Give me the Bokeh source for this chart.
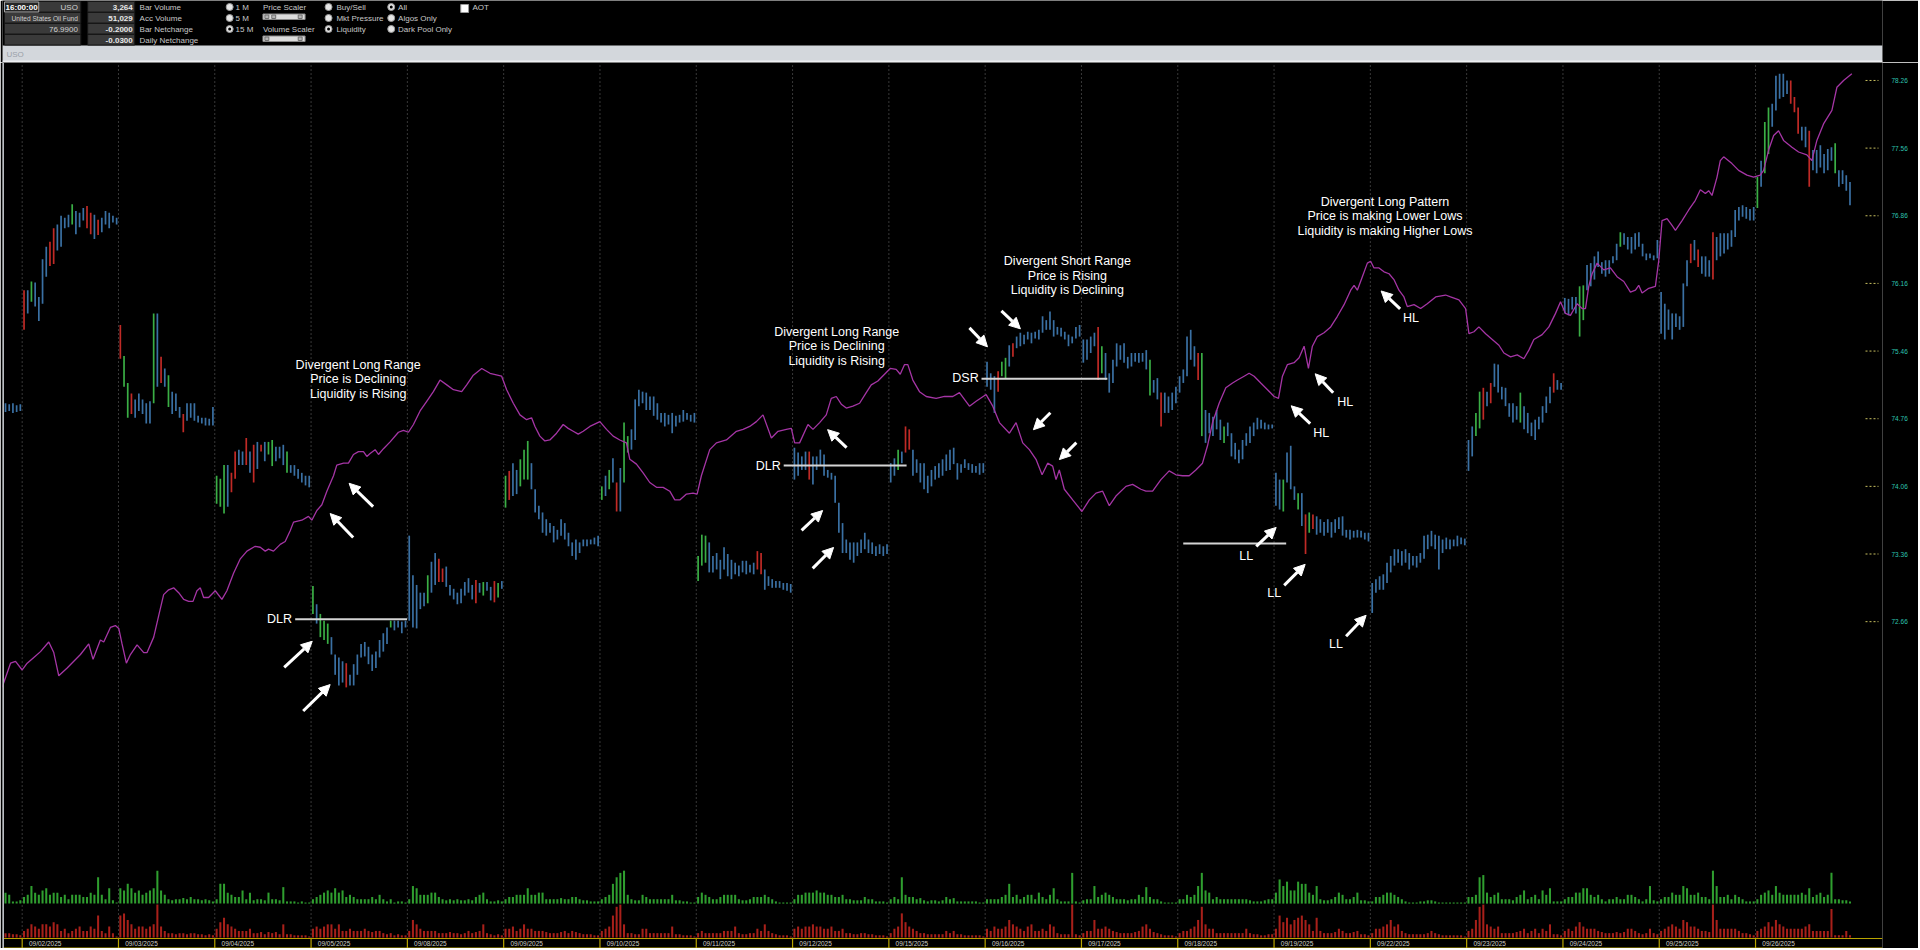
from bokeh.plotting import figure
from bokeh.models import (Range1d, LinearAxis, FixedTicker, PrintfTickFormatter,
                          ColumnDataSource, Arrow, NormalHead, Span)
from bokeh.layouts import column
from bokeh.core.properties import value
from bokeh.embed import file_html
from bokeh.resources import INLINE

FONT = value("Liberation Sans")

# ---------------- data ----------------
days = ["09/02/2025", "09/03/2025", "09/04/2025", "09/05/2025", "09/08/2025",
        "09/09/2025", "09/10/2025", "09/11/2025", "09/12/2025", "09/15/2025",
        "09/16/2025", "09/17/2025", "09/18/2025", "09/19/2025", "09/22/2025",
        "09/23/2025", "09/24/2025", "09/25/2025", "09/26/2025"]
BARS_PER_DAY = 26

# last bars of the previous session (08/29)
pre_high = [74.92, 74.91, 74.92, 74.90, 74.91]
pre_low = [74.83, 74.84, 74.82, 74.83, 74.84]
pre_color = "bbbbb"
pre_buy = [10, 8, 2, 2, 3]
pre_sell = [4, 4, 3, 3, 2]

bar_high = [
    [76.09,76.09,76.18,76.17,76.02,76.41,76.54,76.59,76.73,76.77,76.86,76.84,76.87,76.98,76.91,76.89,76.94,76.96,76.89,76.87,76.82,76.84,76.91,76.89,76.86,76.84],
    [75.73,75.41,75.13,75.02,74.96,75.02,74.96,74.92,74.94,75.85,75.85,75.40,75.28,75.21,75.04,75.02,74.88,74.81,74.92,74.92,74.92,74.79,74.77,74.77,74.76,74.88],
    [74.17,74.14,74.28,74.28,74.20,74.42,74.44,74.42,74.56,74.42,74.49,74.52,74.49,74.52,74.52,74.54,74.47,74.47,74.49,74.42,74.28,74.28,74.24,74.20,74.17,74.17],
    [73.03,72.84,72.74,72.67,72.64,72.50,72.32,72.29,72.25,72.23,72.11,72.22,72.32,72.43,72.45,72.40,72.32,72.35,72.47,72.54,72.60,72.67,72.67,72.67,72.66,72.67],
    [73.55,73.14,73.04,72.96,72.96,73.14,73.28,73.37,73.31,73.21,73.23,73.04,73.00,72.96,73.00,73.07,73.11,73.04,73.09,73.06,73.07,73.07,73.02,73.08,73.06,73.08],
    [74.17,74.22,74.30,74.23,74.34,74.44,74.53,74.30,74.03,73.86,73.79,73.72,73.68,73.65,73.61,73.72,73.68,73.58,73.48,73.51,73.48,73.51,73.51,73.51,73.53,73.55],
    [74.06,74.17,74.23,74.35,74.10,74.25,74.72,74.58,74.65,74.96,75.06,75.04,75.03,74.99,74.99,74.92,74.82,74.82,74.80,74.82,74.79,74.80,74.85,74.82,74.80,74.82],
    [73.34,73.56,73.55,73.48,73.34,73.37,73.30,73.43,73.36,73.30,73.27,73.24,73.29,73.29,73.25,73.27,73.39,73.37,73.20,73.13,73.10,73.08,73.08,73.06,73.06,73.05],
    [74.46,74.41,74.37,74.42,74.42,74.37,74.37,74.44,74.39,74.23,74.20,74.17,73.89,73.68,73.51,73.48,73.48,73.48,73.51,73.58,73.51,73.48,73.44,73.46,73.44,73.46],
    [74.30,74.35,74.44,74.42,74.68,74.65,74.44,74.34,74.30,74.30,74.17,74.23,74.27,74.30,74.34,74.39,74.44,74.46,74.30,74.29,74.34,74.30,74.29,74.27,74.30,74.30],
    [75.35,75.23,75.20,75.25,75.35,75.39,75.52,75.54,75.61,75.65,75.63,75.66,75.65,75.66,75.68,75.82,75.78,75.87,75.78,75.71,75.70,75.66,75.63,75.61,75.71,75.73],
    [75.58,75.58,75.61,75.65,75.71,75.51,75.44,75.23,75.37,75.54,75.52,75.54,75.40,75.44,75.44,75.44,75.44,75.47,75.37,75.16,75.18,75.03,75.03,74.99,75.03,75.09],
    [75.20,75.27,75.61,75.68,75.51,75.44,75.44,74.85,74.82,74.78,74.85,74.75,74.68,74.72,74.61,74.51,74.44,74.54,74.61,74.68,74.72,74.77,74.75,74.72,74.70,74.70],
    [74.20,74.13,74.13,74.41,74.48,74.06,73.99,73.99,73.77,73.79,73.77,73.75,73.72,73.69,73.72,73.69,73.72,73.74,73.75,73.61,73.61,73.60,73.61,73.60,73.58,73.58],
    [73.06,73.10,73.13,73.15,73.27,73.34,73.41,73.41,73.39,73.41,73.37,73.34,73.34,73.37,73.55,73.56,73.60,73.56,73.55,73.51,73.53,73.51,73.51,73.55,73.53,73.52],
    [74.54,74.68,74.82,75.04,75.08,75.04,75.13,75.33,75.32,75.09,75.08,74.92,74.92,74.89,75.03,74.89,74.82,74.72,74.75,74.78,74.89,74.99,75.09,75.23,75.16,75.13],
    [76.01,76.00,76.02,76.02,76.13,76.14,76.35,76.37,76.44,76.49,76.38,76.40,76.40,76.44,76.57,76.69,76.68,76.64,76.64,76.68,76.69,76.57,76.47,76.47,76.45,76.61],
    [76.07,75.95,75.89,75.85,75.85,75.82,76.16,76.40,76.57,76.61,76.51,76.44,76.44,76.40,76.69,76.64,76.68,76.68,76.68,76.71,76.92,76.95,76.97,76.95,76.93,76.95],
    [77.26,77.43,77.83,77.98,78.02,78.31,78.33,78.33,78.26,78.26,78.09,77.98,77.78,77.78,77.74,77.54,77.54,77.59,77.50,77.55,77.57,77.61,77.33,77.33,77.28,77.21],
]
bar_low = [
    [75.68,75.85,75.97,75.92,75.77,75.95,76.23,76.34,76.36,76.50,76.54,76.73,76.74,76.77,76.67,76.74,76.81,76.73,76.67,76.62,76.66,76.69,76.77,76.73,76.79,76.77],
    [75.38,75.09,74.77,74.81,74.77,74.84,74.81,74.71,74.71,74.92,75.09,75.13,75.09,74.88,74.81,74.84,74.77,74.62,74.74,74.77,74.74,74.72,74.71,74.69,74.69,74.69],
    [73.88,73.85,73.78,73.85,74.00,74.14,74.28,74.28,74.28,74.20,74.10,74.24,74.42,74.32,74.39,74.27,74.32,74.35,74.28,74.20,74.20,74.17,74.14,74.10,74.07,74.05],
    [72.74,72.64,72.50,72.47,72.43,72.32,72.11,72.00,72.03,71.98,72.00,72.00,72.11,72.29,72.30,72.22,72.15,72.18,72.29,72.35,72.43,72.60,72.57,72.60,72.54,72.60],
    [72.67,72.60,72.59,72.79,72.82,72.85,72.96,73.04,73.07,73.07,73.02,72.93,72.89,72.84,72.85,72.93,72.96,72.89,72.85,72.96,72.93,72.98,72.88,72.86,72.91,73.00],
    [73.84,73.92,73.96,73.98,74.06,74.13,74.13,74.03,73.79,73.72,73.58,73.55,73.58,73.48,73.51,73.55,73.51,73.44,73.34,73.30,73.37,73.44,73.44,73.46,73.46,73.44],
    [73.92,73.96,74.03,74.10,73.80,73.80,74.10,74.41,74.44,74.54,74.89,74.92,74.85,74.85,74.79,74.75,74.72,74.68,74.70,74.61,74.68,74.72,74.73,74.75,74.73,74.72],
    [73.08,73.24,73.27,73.17,73.17,73.20,73.10,73.20,73.13,73.10,73.15,73.13,73.17,73.15,73.17,73.15,73.20,73.15,72.99,73.03,73.01,73.01,73.01,72.99,72.98,72.96],
    [74.13,74.17,74.23,74.23,74.13,74.08,74.23,74.27,74.17,74.15,74.13,73.89,73.58,73.37,73.37,73.30,73.27,73.34,73.37,73.41,73.37,73.36,73.34,73.36,73.34,73.36],
    [74.10,74.17,74.23,74.30,74.41,74.44,74.17,74.20,74.10,74.03,73.99,74.06,74.13,74.15,74.17,74.22,74.23,74.29,74.13,74.20,74.25,74.23,74.20,74.20,74.18,74.20],
    [75.09,75.06,74.82,75.04,75.20,75.18,75.30,75.40,75.49,75.51,75.53,75.58,75.54,75.59,75.58,75.65,75.68,75.68,75.61,75.63,75.61,75.58,75.51,75.54,75.59,75.61],
    [75.34,75.37,75.44,75.51,75.16,75.23,75.16,75.03,75.13,75.30,75.37,75.34,75.28,75.30,75.35,75.34,75.35,75.27,75.00,75.03,74.96,74.68,74.82,74.82,74.85,74.92],
    [75.03,75.13,75.20,75.37,75.30,75.16,74.58,74.51,74.61,74.58,74.65,74.54,74.51,74.58,74.37,74.34,74.30,74.34,74.48,74.51,74.58,74.65,74.66,74.65,74.65,74.66],
    [73.86,73.82,73.80,74.10,74.03,73.92,73.82,73.65,73.36,73.58,73.62,73.56,73.58,73.55,73.58,73.53,73.58,73.62,73.55,73.53,73.51,73.53,73.53,73.53,73.51,73.49],
    [72.75,72.96,72.99,72.99,73.06,73.17,73.24,73.27,73.24,73.27,73.20,73.24,73.22,73.27,73.31,73.41,73.44,73.41,73.20,73.37,73.41,73.41,73.44,73.44,73.46,73.45],
    [74.22,74.37,74.58,74.66,74.75,74.89,74.92,75.09,75.03,74.96,74.89,74.78,74.72,74.75,74.72,74.65,74.61,74.58,74.54,74.65,74.72,74.82,74.92,75.03,75.06,75.06],
    [75.85,75.83,75.89,75.85,75.61,75.78,76.09,76.13,76.20,76.33,76.26,76.23,76.26,76.37,76.40,76.54,76.56,76.51,76.47,76.51,76.54,76.44,76.40,76.42,76.40,76.42],
    [75.64,75.58,75.68,75.58,75.71,75.68,75.71,76.13,76.37,76.40,76.33,76.26,76.23,76.23,76.20,76.40,76.44,76.47,76.51,76.54,76.64,76.81,76.85,76.83,76.81,76.81],
    [76.94,77.16,77.30,77.50,77.78,77.95,78.07,78.09,78.12,78.02,77.93,77.71,77.64,77.57,77.16,77.33,77.30,77.36,77.30,77.33,77.43,77.30,77.16,77.19,77.12,76.97],
]
# b = neutral (blue), g = buy liquidity (green), r = sell liquidity (red)
bar_color = [
    "rbgbbbbrrbbbbgbbbrrbrbbbbb", "rggrbbbbbgbrbgbbbrbbbbbbbb", "gggbrrbbrbrbrbggbbbgbbbbbb",
    "gbgggbbbbrbbbbbbbbbbbgbbbb", "bbbbbgbbrrbbbbbbbbrbgbbrgb", "grbbgggbbbbbbbbbbbbbbbbbbb",
    "gbgbrbggbbbbbbbbbbbbbbbbbb", "gggbbbbbbbbbbbbbrrbbbbbbbb", "bbbbrbbbbbbbbbbbbbbbbbbbbb",
    "bbgbrrbbbbbbbbbbbbbbbbbbbb", "bbbrggbrbbbbbbbbbbbbbbbbbb", "bbbbrgbbbbbbbbbbbbgbbrbbbb",
    "bbbbbrgbbbbbgbbbbbbbbbbbbb", "bbgbbbgbrgrbbbbbbbbbbbbbbb", "bbbbbbbbbbbbbbbbbbbbbbbbbb",
    "bbggrbrbbbbbbbgbbbbbbbbrbb", "bbbbggbbbbbbbbbgbbbbbbbbbb", "bbbbbbbbrbrbbbrbbbbbbbbbbb",
    "gbggbbbbbrrrbbrbbbbbbgbbbb",
]
# volume per bar (thousand shares)
buy_vol = [
    [6,8,16,10,8,12,14,8,10,10,6,8,4,8,8,8,6,6,10,8,24,8,4,14,3,1],
    [14,12,18,14,10,12,8,10,12,14,30,12,8,4,3,4,4,5,4,6,4,4,3,4,3,2],
    [4,18,18,10,8,6,6,12,4,10,3,4,4,3,10,4,4,3,15,2,2,2,1,2,1,1],
    [4,6,8,10,12,10,14,10,12,6,8,6,4,4,4,4,6,4,8,4,2,4,1,2,2,1],
    [4,16,14,8,8,8,10,10,6,4,3,4,3,4,3,3,4,3,6,8,10,4,2,2,3,2],
    [4,6,6,8,8,8,14,8,8,10,10,4,4,4,4,5,4,4,6,6,4,3,3,2,2,2],
    [4,6,8,18,24,28,30,8,4,3,3,8,6,4,4,4,4,4,4,8,3,3,2,2,1,1],
    [6,10,8,6,4,4,6,8,8,8,8,4,3,3,4,6,6,6,8,6,4,2,1,1,1,1],
    [4,8,8,10,10,10,12,10,10,8,8,6,6,8,4,4,3,3,3,6,4,4,2,2,2,1],
    [4,6,4,24,8,6,6,4,5,3,2,3,3,2,3,6,4,5,2,2,2,2,2,2,1,1],
    [4,4,4,4,6,8,18,6,8,4,6,8,8,4,10,6,4,8,14,4,2,2,2,28,2,1],
    [3,4,4,16,6,8,10,8,6,4,4,4,3,4,4,8,6,15,6,4,4,2,1,1,1,1],
    [4,4,8,6,8,16,28,12,10,4,6,4,4,4,4,4,4,4,4,3,2,2,2,3,4,4],
    [10,22,16,20,12,12,20,18,18,10,8,16,4,3,3,4,6,10,8,4,4,6,10,3,3,2],
    [2,6,6,8,10,10,8,6,4,2,1,1,1,2,2,3,3,2,1,1,1,1,1,1,1,1],
    [6,6,8,24,26,10,6,8,10,4,4,4,3,6,8,12,4,6,8,4,12,8,14,2,2,2],
    [4,6,6,10,10,14,14,8,6,8,4,2,4,4,6,4,4,8,8,6,4,2,4,16,3,2],
    [4,6,6,10,8,8,16,14,8,8,10,6,6,4,30,16,6,6,8,4,8,6,4,2,2,2],
    [4,8,10,12,8,16,10,8,8,8,8,8,10,8,14,6,8,10,6,8,28,4,4,3,3,2],
]
sell_vol = [
    [6,8,12,10,8,12,12,10,14,12,6,8,4,6,8,10,6,6,10,8,20,6,4,10,4,1],
    [20,22,16,12,8,10,10,8,10,12,30,10,6,4,4,3,4,4,3,4,4,3,3,2,3,2],
    [8,14,18,12,10,8,6,6,6,8,4,4,5,3,5,4,5,3,12,3,3,2,2,2,2,1],
    [8,10,8,10,12,12,8,12,6,6,8,6,6,6,8,6,5,6,6,4,3,4,2,3,2,2],
    [6,16,12,8,6,6,6,6,4,4,4,5,4,4,3,4,6,4,5,6,12,4,3,2,3,2],
    [8,8,10,6,8,12,8,8,6,6,6,5,4,4,4,5,6,4,6,5,4,3,3,3,2,2],
    [6,8,10,20,28,30,12,4,4,3,3,8,8,4,4,4,4,4,4,10,3,3,2,2,2,1],
    [4,6,4,4,4,4,4,6,6,6,10,4,3,3,4,4,8,6,12,6,4,3,2,2,2,1],
    [8,10,8,10,10,12,10,10,8,8,10,6,6,8,4,4,3,3,4,4,3,3,2,2,2,1],
    [4,8,10,22,14,10,8,6,4,4,3,3,3,3,3,6,4,6,3,3,2,2,2,2,2,1],
    [8,6,10,8,8,10,16,12,10,8,6,10,12,6,6,8,6,12,10,4,3,3,3,30,3,2],
    [4,6,6,16,8,8,10,8,6,5,4,4,4,4,5,6,10,12,8,5,4,3,2,2,2,1],
    [4,6,6,8,10,16,28,12,8,8,4,4,4,4,4,4,4,4,8,4,3,3,2,2,3,3],
    [8,20,14,18,12,16,18,20,16,12,6,18,6,4,4,4,5,8,6,4,4,5,6,3,3,2],
    [4,8,8,10,12,16,10,12,6,4,3,3,3,3,3,4,6,4,3,2,2,2,2,2,2,1],
    [6,8,16,28,30,12,10,8,10,4,4,4,4,5,6,8,4,6,8,4,8,6,12,3,3,2],
    [6,8,6,10,14,10,8,8,8,6,5,4,4,4,5,4,5,8,8,6,4,3,4,8,4,3],
    [6,8,10,12,10,8,16,14,10,10,8,6,6,5,30,16,8,8,8,8,8,6,4,4,3,2],
    [6,8,10,14,10,16,12,10,8,8,8,8,8,10,12,6,6,6,6,6,26,2,2,2,6,2],
]

# liquidity line (time in sessions since 09/02 open, value scaled to the price axis)
liq_t = [-0.208,-0.121,-0.069,0.000,0.052,0.121,0.190,0.276,0.328,0.380,0.467,0.605,0.691,0.736,0.812,0.847,0.916,0.968,
         1.003,1.037,1.082,1.124,1.193,1.262,1.297,1.366,1.417,1.469,1.521,1.573,1.625,1.677,1.729,1.774,1.815,1.850,1.884,1.936,
         2.005,2.074,2.126,2.195,2.265,2.334,2.420,2.472,2.524,2.558,2.610,2.680,2.731,2.783,2.818,2.904,2.973,
         3.008,3.060,3.112,3.164,3.233,3.267,3.337,3.388,3.440,3.492,3.544,3.579,3.613,3.665,3.700,3.752,3.821,3.907,3.959,
         4.011,4.063,4.132,4.201,4.270,4.339,4.409,4.478,4.564,4.616,4.685,4.772,4.858,4.979,
         5.031,5.100,5.169,5.238,5.290,5.325,5.376,5.428,5.480,5.549,5.618,5.670,5.722,5.774,5.826,5.895,5.999,
         6.068,6.137,6.206,6.275,6.310,6.379,6.448,6.517,6.587,6.656,6.725,6.777,6.829,6.898,6.967,
         7.009,7.053,7.140,7.209,7.313,7.417,7.486,7.555,7.624,7.693,7.780,7.849,7.935,7.987,
         8.022,8.073,8.160,8.212,8.281,8.350,8.402,8.454,8.506,8.558,8.627,8.696,8.765,8.817,8.886,8.955,
         9.014,9.076,9.118,9.163,9.197,9.249,9.318,9.388,9.491,9.578,9.664,9.733,9.837,9.906,
         10.010,10.079,10.148,10.252,10.321,10.390,10.459,10.528,10.591,10.649,10.701,10.736,10.770,10.822,10.909,
         11.005,11.082,11.151,11.220,11.289,11.358,11.462,11.531,11.617,11.669,11.739,11.825,11.911,11.981,
         12.050,12.119,12.188,12.257,12.309,12.361,12.430,12.499,12.569,12.620,12.689,12.741,12.793,12.862,12.932,
         13.001,13.046,13.087,13.139,13.208,13.260,13.312,13.357,13.398,13.450,13.519,13.588,13.658,13.727,13.796,13.831,13.865,13.917,13.969,
         14.003,14.038,14.090,14.142,14.194,14.245,14.297,14.349,14.384,14.453,14.522,14.591,14.678,14.781,14.833,14.920,14.989,
         15.024,15.076,15.127,15.197,15.266,15.335,15.387,15.456,15.525,15.594,15.646,15.698,15.784,15.854,15.923,15.975,
         16.026,16.078,16.147,16.199,16.234,16.268,16.303,16.355,16.424,16.493,16.562,16.632,16.701,16.753,16.787,16.822,16.891,16.960,16.995,
         17.029,17.081,17.133,17.168,17.237,17.306,17.375,17.427,17.479,17.513,17.548,17.600,17.634,17.669,17.755,17.824,17.911,17.980,
         18.049,18.084,18.136,18.188,18.239,18.291,18.378,18.447,18.533,18.585,18.637,18.706,18.793,18.845,18.914,19.000]
liq_v = [71.98,72.23,72.25,72.16,72.23,72.29,72.35,72.45,72.34,72.10,72.18,72.32,72.43,72.27,72.47,72.45,72.60,72.62,
         72.59,72.43,72.23,72.32,72.42,72.34,72.34,72.50,72.72,72.94,72.99,73.01,72.96,72.89,72.87,72.87,72.98,73.01,72.91,72.91,
         72.98,72.89,72.98,73.16,73.31,73.39,73.44,73.43,73.39,73.41,73.39,73.46,73.49,73.60,73.69,73.71,73.75,
         73.71,73.81,73.87,74.01,74.17,74.28,74.30,74.30,74.39,74.42,74.42,74.37,74.40,74.44,74.39,74.45,74.52,74.62,74.64,
         74.62,74.70,74.84,74.94,75.04,75.16,75.11,75.06,75.04,75.11,75.21,75.28,75.23,75.20,
         75.06,74.92,74.80,74.75,74.77,74.68,74.58,74.53,74.54,74.61,74.70,74.66,74.63,74.60,74.63,74.68,74.73,
         74.65,74.58,74.54,74.51,74.34,74.29,74.20,74.10,74.05,74.05,74.01,73.92,73.92,73.98,73.99,
         73.98,74.17,74.44,74.51,74.54,74.63,74.65,74.68,74.73,74.80,74.56,74.63,74.65,74.66,
         74.51,74.51,74.70,74.65,74.72,74.80,74.97,74.99,74.91,74.87,74.89,74.92,75.03,75.11,75.15,75.22,
         75.28,75.27,75.22,75.32,75.32,75.16,75.04,74.99,74.97,74.99,74.99,75.03,74.89,74.94,
         75.01,74.89,74.72,74.61,74.72,74.51,74.44,74.34,74.18,74.30,74.27,74.13,74.23,74.03,73.92,
         73.80,73.92,73.99,74.01,73.86,73.96,74.06,74.08,74.03,74.01,74.01,74.13,74.22,74.18,
         74.17,74.17,74.23,74.30,74.48,74.72,74.92,75.08,75.13,75.16,75.20,75.23,75.20,75.13,75.06,
         74.99,74.97,75.20,75.32,75.34,75.39,75.51,75.28,75.51,75.61,75.65,75.71,75.82,75.94,76.09,76.14,76.09,76.23,76.37,
         76.39,76.32,76.32,76.28,76.26,76.20,76.09,76.02,75.92,75.94,75.90,75.95,76.02,76.04,76.02,75.99,75.90,
         75.64,75.66,75.71,75.64,75.58,75.52,75.44,75.40,75.42,75.38,75.47,75.58,75.63,75.71,75.85,75.97,
         75.85,75.83,75.95,75.90,75.90,76.13,76.26,76.37,76.30,76.32,76.23,76.18,76.07,76.09,76.14,76.06,76.11,76.13,76.40,
         76.81,76.83,76.76,76.71,76.81,76.92,77.02,77.13,77.09,77.12,77.07,77.26,77.43,77.47,77.40,77.33,77.28,77.26,
         77.28,77.33,77.54,77.69,77.74,77.64,77.57,77.52,77.49,77.43,77.64,77.81,77.95,78.19,78.26,78.33]

price_ticks = [72.66, 73.36, 74.06, 74.76, 75.46, 76.16, 76.86, 77.56, 78.26]

# ---------------- styling ----------------
BAR_COLORS = {"b": "#3a70a3", "g": "#3aae45", "r": "#c02a26"}
VOL_GREEN = "#2f9e2f"
VOL_RED = "#a8201a"
LIQ_COLOR = "#a535a5"
W = 1918
VOL_PX = 1.1           # screen pixels per volume unit


def vpx(px):
    """convert a vertical offset in pixels (from the red volume baseline) to volume units"""
    return px / VOL_PX


# ---------------- assemble bars ----------------
xs, lows, highs, cols, buys, sells = [], [], [], [], [], []
npre = len(pre_high)
for j in range(npre):
    xs.append(-(npre - j - 0.5) / BARS_PER_DAY)
    lows.append(pre_low[j]); highs.append(pre_high[j])
    cols.append(BAR_COLORS[pre_color[j]])
    buys.append(pre_buy[j]); sells.append(pre_sell[j])
for k in range(len(days)):
    for j in range(BARS_PER_DAY):
        xs.append(k + (j + 0.5) / BARS_PER_DAY)
        lows.append(bar_low[k][j]); highs.append(bar_high[k][j])
        cols.append(BAR_COLORS[bar_color[k][j]])
        buys.append(buy_vol[k][j]); sells.append(sell_vol[k][j])

BUY_BASE = vpx(34)  # green volume histogram sits above the red one
src = ColumnDataSource(dict(x=xs, lo=lows, hi=highs, c=cols,
                            bt=[BUY_BASE + v for v in buys], st=sells))

X0, X1 = -0.2044, 19.3184
p = figure(width=W, height=886, x_range=Range1d(X0, X1), y_range=Range1d(69.278, 78.446),
           toolbar_location=None, output_backend="svg",
           x_axis_location=None, y_axis_location=None,
           min_border_left=2, min_border_right=36, min_border_top=0, min_border_bottom=0,
           background_fill_color="black", border_fill_color="black", outline_line_color=None)
p.extra_y_ranges = {"vol": Range1d(vpx(-11), vpx(877))}
p.xgrid.visible = False
p.ygrid.visible = False

day_x = list(range(len(days)))
nd = len(days)
# session separators
p.segment(x0=day_x, x1=day_x, y0=[vpx(-1)] * nd, y1=[vpx(877)] * nd, y_range_name="vol",
          line_color="#707070", line_dash="1 3", line_width=1)
p.add_layout(Span(location=X0, dimension="height", line_color="#b9bdc2", line_width=3))

# volume
p.vbar(x="x", bottom=BUY_BASE, top="bt", width=0.55 / BARS_PER_DAY, source=src,
       y_range_name="vol", fill_color=VOL_GREEN, line_color=None)
p.vbar(x="x", bottom=0, top="st", width=0.55 / BARS_PER_DAY, source=src,
       y_range_name="vol", fill_color=VOL_RED, line_color=None)

# date band
YEL = "#b8a400"
p.segment(x0=[X0, X0], x1=[X1, X1], y0=[vpx(-1), vpx(-10.5)], y1=[vpx(-1), vpx(-10.5)],
          y_range_name="vol", line_color=YEL, line_width=1.2)
p.segment(x0=day_x, x1=day_x, y0=[vpx(-1)] * nd, y1=[vpx(-11)] * nd, y_range_name="vol",
          line_color=YEL, line_width=1.2)
p.text(x=[d + 0.07 for d in day_x], y=[vpx(-5.8)] * nd, text=days, y_range_name="vol",
       text_font=FONT, text_font_size="6.5px", text_color="#cfcfc4", text_baseline="middle")

# price bars
p.segment(x0="x", x1="x", y0="lo", y1="hi", line_color="c", line_width=1.7, source=src)

# liquidity line
p.line(liq_t, liq_v, line_color=LIQ_COLOR, line_width=1.3)

# right price axis with dashed tick markers
p.segment(x0=[19.142] * len(price_ticks), x1=[19.277] * len(price_ticks), y0=price_ticks, y1=price_ticks,
          line_color="#c8c060", line_dash="2 2", line_width=1)
ax = LinearAxis(ticker=FixedTicker(ticks=price_ticks), formatter=PrintfTickFormatter(format="%.2f"),
                axis_line_color=None, major_tick_line_color=None, minor_tick_line_color=None,
                major_label_text_color="#2ec4b0", major_label_text_font_size="6.5px",
                major_label_text_font="Liberation Sans", major_label_standoff=3)
p.add_layout(ax, "right")

# ---------------- annotations ----------------
note_blocks = [
    (3.489, [75.319, 75.166, 75.016], ["Divergent Long Range", "Price is Declining", "Liquidity is Rising"]),
    (8.458, [75.658, 75.514, 75.359], ["Divergent Long Range", "Price is Declining", "Liquidity is Rising"]),
    (10.854, [76.391, 76.236, 76.092], ["Divergent Short Range", "Price is Rising", "Liquidity is Declining"]),
    (14.152, [77.000, 76.856, 76.701], ["Divergent Long Pattern", "Price is making Lower Lows",
                                        "Liquidity is making Higher Lows"]),
]
nx, ny, nt = [], [], []
for cx, ys, ts in note_blocks:
    for yy, tt in zip(ys, ts):
        nx.append(cx); ny.append(yy); nt.append(tt)
p.text(x=nx, y=ny, text=nt, text_font=FONT, text_font_size="12.5px", text_color="white",
       text_align="center", text_baseline="middle")

tag_x = [2.672, 7.747, 9.796, 12.711, 13.001, 13.644, 13.489, 13.738, 14.422]
tag_y = [72.684, 74.275, 75.183, 73.335, 72.953, 72.427, 74.616, 74.936, 75.803]
tag_t = ["DLR", "DLR", "DSR", "LL", "LL", "LL", "HL", "HL", "HL"]
p.text(x=tag_x, y=tag_y, text=tag_t, text_font=FONT, text_font_size="12.5px", text_color="white",
       text_align="center", text_baseline="middle")

# range lines
p.segment(x0=[2.835, 7.908, 9.962, 12.057], x1=[3.997, 9.184, 11.269, 13.126],
          y0=[72.684, 74.275, 75.173, 73.470], y1=[72.684, 74.275, 75.173, 73.470],
          line_color="#d4d4d4", line_width=2)

arrows = ColumnDataSource(dict(
    xs=[3.644, 3.437, 2.721, 2.918, 8.561, 8.094, 8.209, 9.837, 10.169, 10.677, 10.947,
        12.815, 13.105, 13.748, 13.375, 13.614, 14.309],
    ys=[73.851, 73.531, 72.186, 71.735, 74.461, 73.604, 73.212, 75.700, 75.876, 74.822, 74.512,
        73.439, 73.036, 72.509, 74.709, 75.029, 75.896],
    xe=[3.395, 3.198, 3.012, 3.198, 8.364, 8.312, 8.426, 10.024, 10.366, 10.501, 10.771,
        13.022, 13.323, 13.956, 13.178, 13.427, 14.112],
    ye=[74.092, 73.779, 72.457, 72.009, 74.647, 73.810, 73.428, 75.504, 75.690, 74.646, 74.337,
        73.635, 73.253, 72.726, 74.894, 75.225, 76.082],
))
p.add_layout(Arrow(source=arrows, x_start="xs", y_start="ys", x_end="xe", y_end="ye",
                   line_color="white", line_width=3,
                   end=NormalHead(size=11, fill_color="white", line_color="white", line_width=1)))

# ---------------- header strip ----------------
h = figure(width=W, height=62, x_range=Range1d(0, 1920), y_range=Range1d(62, 0),
           toolbar_location=None, output_backend="svg", x_axis_location=None, y_axis_location=None,
           min_border=0, background_fill_color="black", border_fill_color="black",
           outline_line_color=None)
h.xgrid.visible = False
h.ygrid.visible = False
h.quad(left=0, right=1920, top=45, bottom=62, fill_color="#d3d7dc", line_color=None)
h.quad(left=0, right=1920, top=60, bottom=62, fill_color="#eef0f2", line_color=None)
rt = [1, 12, 23, 34]
rb = [11.5, 22.5, 33.5, 44.5]
h.quad(left=[2] * 4, right=[80] * 4, top=rt, bottom=rb, fill_color="#3a3a3a", line_color="#161616")
h.quad(left=2, right=37, top=1.5, bottom=11.5, fill_color="#262626", line_color="#a8a8a8")
h.quad(left=[87] * 4, right=[135] * 4, top=rt, bottom=rb, fill_color="#3a3a3a", line_color="#161616")
rowy = [6.5, 17.5, 28.5, 39.5]
hfs = "8px"
h.text(x=[19.5], y=[6.5], text=["16:00:00"], text_font=FONT, text_font_size=hfs, text_color="white",
       text_font_style="bold", text_align="center", text_baseline="middle")
h.text(x=[77, 77], y=[6.5, 28.5], text=["USO", "76.9900"], text_font=FONT,
       text_font_size=hfs, text_color="#d0d0d0", text_align="right", text_baseline="middle")
h.text(x=[77], y=[17.5], text=["United States Oil Fund"], text_font=FONT,
       text_font_size="6.6px", text_color="#d0d0d0", text_align="right", text_baseline="middle")
h.text(x=[133] * 4, y=rowy, text=["3,264", "51,029", "-0.2000", "-0.0300"], text_font=FONT,
       text_font_size=hfs, text_color="#e8e8e8", text_font_style="bold", text_align="right",
       text_baseline="middle")
h.text(x=[140] * 4, y=rowy, text=["Bar Volume", "Acc Volume", "Bar Netchange", "Daily Netchange"],
       text_font=FONT, text_font_size=hfs, text_color="#c8c8c8", text_baseline="middle")
# radio groups
rx = [232] * 3 + [333] * 3 + [397] * 3
ry = rowy[:3] * 3
h.scatter(x=rx, y=ry, size=7, fill_color="#e6e6e6", line_color="#9a9a9a")
h.scatter(x=[232, 333, 397], y=[28.5, 28.5, 6.5], size=3, fill_color="black", line_color=None)
h.text(x=[238] * 3 + [341] * 3 + [404] * 3, y=ry,
       text=["1 M", "5 M", "15 M", "Buy/Sell", "Mkt Pressure", "Liquidity", "All", "Algos Only",
             "Dark Pool Only"],
       text_font=FONT, text_font_size=hfs, text_color="#c8c8c8", text_baseline="middle")
h.text(x=[266, 266], y=[6.5, 28.5], text=["Price Scaler", "Volume Scaler"], text_font=FONT,
       text_font_size=hfs, text_color="#c8c8c8", text_baseline="middle")
h.quad(left=[266, 266], right=[309, 309], top=[13.5, 35.5], bottom=[19, 41], fill_color="#dcdcdc",
       line_color="#8a8a8a")
h.quad(left=[268, 302, 275, 268, 302], right=[272, 306, 279, 272, 306],
       top=[14.5, 14.5, 14.5, 36.5, 36.5], bottom=[18, 18, 18, 40, 40],
       fill_color="#b4b4b4", line_color="#707070")
h.quad(left=468, right=476, top=4, bottom=12, fill_color="white", line_color="#9a9a9a")
h.text(x=[480], y=[6.5], text=["AOT"], text_font=FONT, text_font_size=hfs, text_color="#c8c8c8",
       text_baseline="middle")
h.text(x=[4], y=[54], text=["USO"], text_font=FONT, text_font_size=hfs, text_color="#9aa0a8",
       text_baseline="middle")

layout = column(h, p)
html = file_html(layout, INLINE, title="USO Liquidity")
html = html.replace("<body>", '<body style="background:#000000">', 1)
open("out.html", "w").write(html)
